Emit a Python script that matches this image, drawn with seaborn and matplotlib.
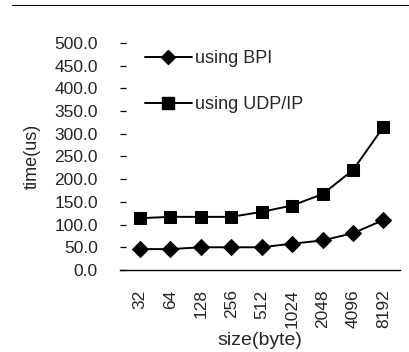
import matplotlib
matplotlib.use("Agg")
import matplotlib.pyplot as plt
from matplotlib.lines import Line2D
import seaborn as sns
import pandas as pd

sizes = ["32", "64", "128", "256", "512", "1024", "2048", "4096", "8192"]
bpi_us = [46, 46, 50, 50, 50, 58, 65, 81, 110]
udp_us = [114, 117, 117, 117, 128, 142, 167, 220, 315]
yticks = [0, 50, 100, 150, 200, 250, 300, 350, 400, 450, 500]

df = pd.DataFrame({
    "size": sizes * 2,
    "time": bpi_us + udp_us,
    "method": ["using BPI"] * len(sizes) + ["using UDP/IP"] * len(sizes),
})

sns.set_style("white")
plt.rcParams["font.family"] = ["Liberation Sans", "DejaVu Sans"]

fig = plt.figure(figsize=(4.10, 3.52), dpi=100)
ax = fig.add_axes([0.293, 0.233, 0.683, 0.645])

sns.lineplot(data=df, x="size", y="time", style="method",
             markers={"using BPI": "D", "using UDP/IP": "s"},
             dashes=False, color="black", linewidth=1.4,
             markersize=8, markeredgecolor="black", ax=ax, sort=False,
             legend=False)

ax.set_ylim(0, 500)
ax.set_xlim(-0.65, len(sizes) - 0.45)
ax.set_yticks(yticks)
ax.set_yticklabels([f"{v:.1f}" for v in yticks], fontsize=12.5)
ax.tick_params(axis="y", left=True, direction="in", length=4, width=0.9,
               pad=16, color="black")
ax.tick_params(axis="x", length=0, pad=14, labelsize=12.5, labelrotation=90)
for s in ["top", "right", "left"]:
    ax.spines[s].set_visible(False)
ax.spines["bottom"].set_color("black")
ax.spines["bottom"].set_linewidth(1.0)

ax.set_xlabel("size(byte)", fontsize=14, labelpad=3)
ax.set_ylabel("time(us)", fontsize=13, labelpad=10)

handles = [
    Line2D([], [], color="black", lw=1.4, marker="D", markersize=7),
    Line2D([], [], color="black", lw=1.4, marker="s", markersize=8),
]
ax.legend(handles, ["using BPI", "using UDP/IP"], loc="upper left",
          bbox_to_anchor=(0.03, 1.04), frameon=False, fontsize=13,
          handlelength=2.6, handletextpad=0.2, labelspacing=1.6)

# thin rule across the top of the figure
fig.add_artist(Line2D([0.03, 1.0], [0.985, 0.985], color="black", lw=0.8,
                      transform=fig.transFigure))

fig.savefig("out.png", dpi=100)
